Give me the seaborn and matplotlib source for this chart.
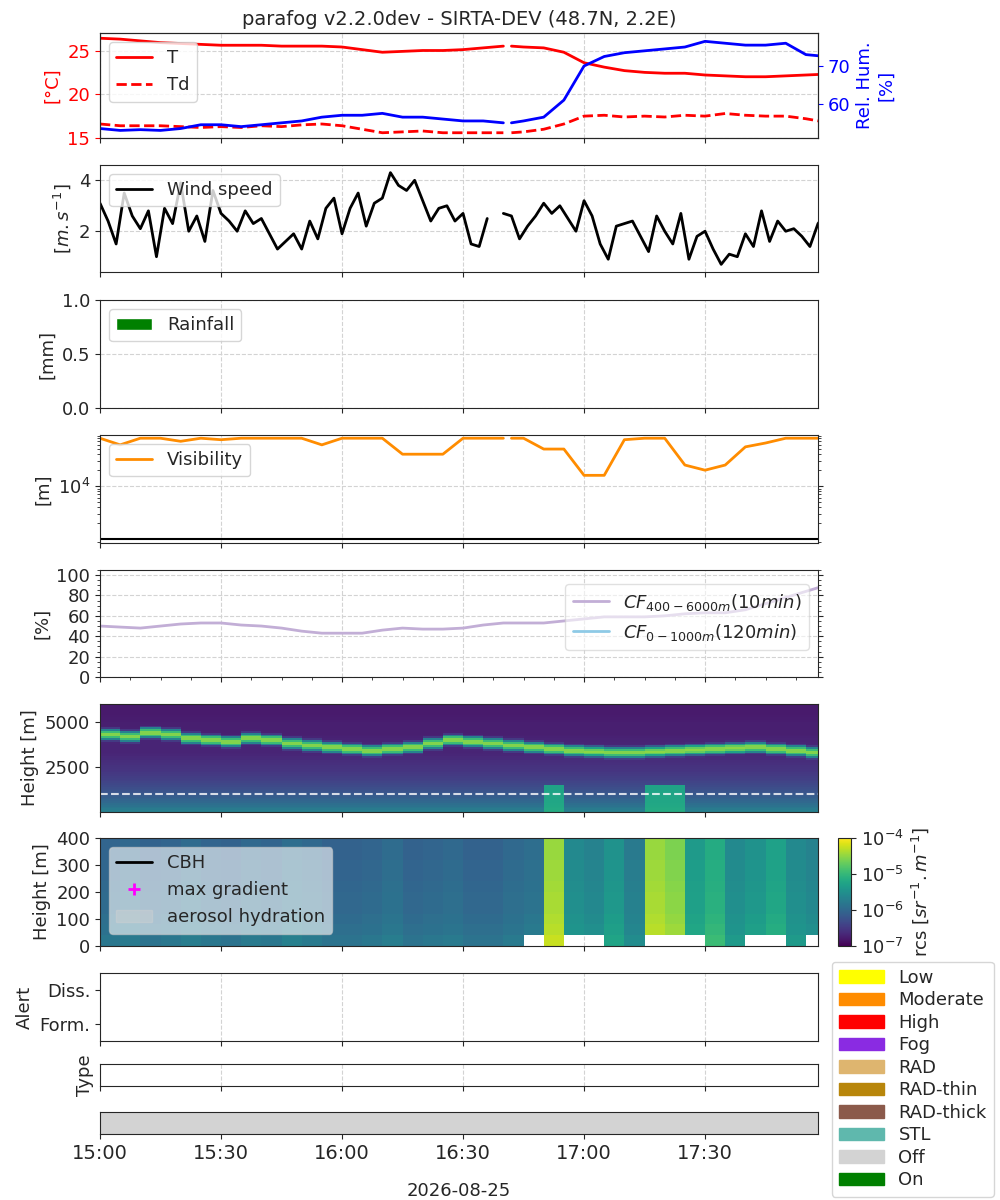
import numpy as np
import pandas as pd
import matplotlib
matplotlib.use('Agg')
import matplotlib.pyplot as plt
import matplotlib.dates as mdates
from matplotlib.colors import LogNorm
from matplotlib.patches import Patch
import seaborn as sns

sns.set_style('ticks')
plt.rcParams['font.family'] = ['DejaVu Sans']
plt.rcParams['font.size'] = 13

day = pd.Timestamp('2026-08-25 15:00')

# minutes after 15:00 for the met series (gap at 16:41)
met_minutes = list(range(0, 101, 5)) + [101] + [102] + list(range(105, 181, 5))
temp = [26.4, 26.3, 26.1, 25.9, 25.8, 25.7, 25.6, 25.6, 25.6, 25.5, 25.5, 25.5, 25.4, 25.1,
        24.8, 24.9, 25.0, 25.0, 25.1, 25.3, 25.5, np.nan,
        25.5, 25.4, 25.3, 24.8, 23.6, 23.1, 22.7, 22.5, 22.4, 22.4, 22.2, 22.1, 22.0, 22.0,
        22.1, 22.2, 22.3]
dewp = [16.6, 16.4, 16.4, 16.4, 16.3, 16.2, 16.3, 16.2, 16.4, 16.3, 16.5, 16.6, 16.4, 16.0,
        15.6, 15.7, 15.8, 15.6, 15.6, 15.6, 15.6, np.nan,
        15.6, 15.7, 16.0, 16.6, 17.5, 17.6, 17.4, 17.5, 17.4, 17.6, 17.5, 17.8, 17.6, 17.5,
        17.5, 17.2, 16.8]
rhum = [53.5, 53.0, 53.2, 53.0, 53.5, 54.5, 54.5, 54.0, 54.5, 55.0, 55.5, 56.5, 57.0, 57.0,
        57.5, 56.5, 56.5, 56.0, 55.5, 55.5, 55.0, np.nan,
        55.0, 55.5, 56.5, 61.0, 70.0, 72.5, 73.5, 74.0, 74.5, 75.0, 76.5, 76.0, 75.5, 75.5,
        76.0, 73.0, 72.5]
visib = [80000, 60000, 80000, 80000, 70000, 80000, 75000, 80000, 80000, 80000, 80000, 60000,
         80000, 80000, 80000, 40000, 40000, 40000, 80000, 80000, 80000, np.nan,
         80000, 80000, 50000, 50000, 16000, 16000, 75000, 80000, 80000, 25000, 20000, 25000,
         55000, 65000, 80000, 80000, 80000]
# 5-min cloud fraction
cloud_frac = [50, 49, 48, 50, 52, 53, 53, 51, 50, 48, 45, 43, 43, 43, 46, 48, 47, 47, 48, 51,
              53, 53, 53, 55, 57, 59, 59, 59, 60, 62, 63, 63, 66, 72, 78, 84, 90]
# 2-min wind speed
wind = [3.1, 2.4, 1.5, 3.5, 2.6, 2.1, 2.8, 1.0, 2.9, 2.3, 3.9, 2.0, 2.6, 1.6, 3.6, 2.7, 2.4,
        2.0, 2.8, 2.3, 2.5, 1.9, 1.3, 1.6, 1.9, 1.3, 2.4, 1.7, 2.9, 3.3, 1.9, 2.9, 3.5, 2.2,
        3.1, 3.3, 4.3, 3.8, 3.6, 4.0, 3.2, 2.4, 2.9, 3.0, 2.4, 2.7, 1.5, 1.4, 2.5, np.nan,
        2.7, 2.6, 1.7, 2.2, 2.6, 3.1, 2.7, 3.0, 2.5, 2.0, 3.2, 2.6, 1.5, 0.9, 2.2, 2.3, 2.4,
        1.8, 1.2, 2.6, 2.0, 1.5, 2.7, 0.9, 1.8, 2.0, 1.3, 0.7, 1.1, 1.0, 1.9, 1.4, 2.8, 1.6,
        2.4, 2.0, 2.1, 1.8, 1.4, 2.3, 2.7, 2.1, 2.5, 1.9, 3.5, 2.5]
# ceilometer proxies (5-min columns)
layer_height = [4300, 4200, 4400, 4300, 4100, 4000, 3900, 4100, 4000, 3800, 3700, 3600, 3500,
                3400, 3500, 3600, 3800, 4000, 3900, 3800, 3700, 3600, 3500, 3400, 3350, 3300,
                3300, 3350, 3400, 3450, 3500, 3550, 3600, 3500, 3400, 3300]
low_column = [1.1e-6, 1.2e-6, 1.0e-6, 1.1e-6, 1.3e-6, 1.1e-6, 1.0e-6, 1.2e-6, 1.1e-6, 1.4e-6,
              1.2e-6, 1.0e-6, 1.0e-6, 1.1e-6, 1.3e-6, 1.0e-6, 1.1e-6, 1.2e-6, 1.0e-6, 1.0e-6,
              1.2e-6, 1.4e-6, 4e-5, 3e-6, 2.5e-6, 4e-6, 2e-6, 4e-5, 3e-5, 5e-6, 8e-6, 3e-6,
              4e-6, 6e-6, 3e-6, 2.5e-6]
low_missing = [0] * 21 + [1, 0, 1, 1, 0, 0, 1, 1, 1, 0, 0, 1, 1, 0, 1]
height_profile_high = [2e-6, 1e-6, 6e-7, 4e-7, 3e-7, 2.5e-7, 2e-7, 2e-7, 1.8e-7, 1.8e-7, 1.6e-7, 1.6e-7]
height_profile_low = [1.4, 1.2, 1.1, 1.0, 1.0, 0.95, 0.9, 0.9, 0.85, 0.85]

W, H = 1000, 1200
def box(yt, yb, xl=100, xr=818):
    return [xl / W, 1 - yb / H, (xr - xl) / W, (yb - yt) / H]

fig = plt.figure(figsize=(10, 12), dpi=100)
tm = day + pd.to_timedelta(met_minutes, unit='min')
t2 = day + pd.to_timedelta(np.arange(len(wind)) * 2, unit='min')
t5 = day + pd.to_timedelta(np.arange(len(cloud_frac)) * 5, unit='min')
xlim = (day, day + pd.Timedelta(minutes=178))

axes = []
# 1 T / Td / RH
ax = fig.add_axes(box(33, 138)); axes.append(ax)
ax.plot(tm, temp, color='red', lw=2, label='T')
ax.plot(tm, dewp, color='red', lw=2, ls='--', label='Td')
ax.set_ylim(15, 27); ax.set_yticks([15, 20, 25])
ax.set_ylabel('[°C]', color='red'); ax.tick_params(axis='y', colors='red')
ax.legend(loc='upper left')
ax2 = ax.twinx()
ax2.plot(tm, rhum, color='blue', lw=2)
ax2.set_ylim(51, 78.7); ax2.set_yticks([60, 70])
ax2.set_ylabel('Rel. Hum.\n[%]', color='blue'); ax2.tick_params(axis='y', colors='blue')
ax.set_title('parafog v2.2.0dev - SIRTA-DEV (48.7N, 2.2E)', fontsize=14)

# 2 wind
ax = fig.add_axes(box(165, 272)); axes.append(ax)
ax.plot(t2, wind, color='black', lw=2, label='Wind speed')
ax.set_ylim(0.4, 4.6); ax.set_yticks([2, 4])
ax.set_ylabel('[$m.s^{-1}$]'); ax.legend(loc='upper left')

# 3 rain
ax = fig.add_axes(box(300, 408)); axes.append(ax)
ax.bar(t5, np.zeros(len(t5)), width=0.003, color='green', label='Rainfall')
ax.set_ylim(0, 1); ax.set_yticks([0, 0.5, 1.0])
ax.set_ylabel('[mm]'); ax.legend(loc='upper left')

# 4 visibility
ax = fig.add_axes(box(435, 543)); axes.append(ax)
ax.plot(tm, visib, color='darkorange', lw=2, label='Visibility')
ax.set_yscale('log'); ax.set_ylim(850, 92000)
ax.set_yticks([1e4])
ax.axhline(1000, color='black', lw=1.5)
ax.set_ylabel('[m]'); ax.legend(loc='upper left')
ax.tick_params(axis='y', which='both', right=True)

# 5 cloud fraction
ax = fig.add_axes(box(570, 677)); axes.append(ax)
ax.plot(t5, cloud_frac, color='#c2aed6', lw=2, label='$CF_{400-6000m}(10min)$')
ax.plot([], [], color='#8ecae6', lw=2, label='$CF_{0-1000m}(120min)$')
ax.set_ylim(0, 105); ax.set_yticks(range(0, 101, 20))
ax.set_ylabel('[%]'); ax.legend(loc='upper right', bbox_to_anchor=(1, 0.95), framealpha=0.6)
ax.minorticks_on(); ax.tick_params(axis='y', which='both', right=True)

norm = LogNorm(1e-7, 1e-4)
tcol = day + pd.to_timedelta(np.arange(len(layer_height) + 1) * 5, unit='min')
# 6 high rcs
ax = fig.add_axes(box(704, 812)); axes.append(ax)
hgrid = np.linspace(0, 6000, 61)
hc = 0.5 * (hgrid[1:] + hgrid[:-1])
bg = np.interp(hc, np.linspace(0, 6000, len(height_profile_high)), height_profile_high)
field = np.tile(bg[:, None], (1, len(layer_height)))
for j, lh in enumerate(layer_height):
    field[:, j] += 3e-5 * np.exp(-((hc - lh) / 150) ** 2)
    if low_column[j] > 1e-5:
        field[hc < 1500, j] += 5e-6
ax.pcolormesh(tcol, hgrid, field, cmap='viridis', norm=norm)
ax.axhline(1000, color='white', ls='--', lw=1.5, alpha=0.8)
ax.set_ylim(0, 6000); ax.set_yticks([2500, 5000])
ax.set_ylabel('Height [m]')

# 7 low rcs
ax = fig.add_axes(box(838, 946)); axes.append(ax)
lgrid = np.linspace(0, 400, len(height_profile_low) + 1)
lfield = np.outer(height_profile_low, low_column)
lfield[0, np.array(low_missing) == 1] = np.nan
mesh = ax.pcolormesh(tcol, lgrid, lfield, cmap='viridis', norm=norm)
ax.plot([], [], color='black', lw=2, label='CBH')
ax.plot([], [], '+', color='magenta', ms=8, mew=2, label='max gradient')
ax.fill_between([], [], color='lightgray', alpha=0.4, label='aerosol hydration')
ax.set_ylim(0, 400); ax.set_yticks(range(0, 401, 100))
ax.set_ylabel('Height [m]'); ax.legend(loc='upper left', framealpha=0.6)
cax = fig.add_axes(box(838, 946, 838, 851))
cb = fig.colorbar(mesh, cax=cax)
cb.set_ticks([1e-7, 1e-6, 1e-5, 1e-4])
cb.set_label('rcs [$sr^{-1}.m^{-1}$]')

# 8 alert
ax = fig.add_axes(box(973, 1041)); axes.append(ax)
ax.set_ylim(-0.5, 1.5); ax.set_yticks([0, 1]); ax.set_yticklabels(['Form.', 'Diss.'])
ax.set_ylabel('Alert')

# 9 type
ax = fig.add_axes(box(1064, 1086)); axes.append(ax)
ax.set_yticks([]); ax.set_ylabel('Type')

# 10 on/off
ax = fig.add_axes(box(1112, 1134)); axes.append(ax)
ax.axvspan(xlim[0], xlim[1], color='lightgray')
ax.set_yticks([])

for i, a in enumerate(axes):
    a.set_xlim(xlim)
    a.xaxis.set_major_locator(mdates.MinuteLocator(byminute=[0, 30]))
    a.xaxis.set_major_formatter(mdates.DateFormatter('%H:%M'))
    if i < 5:
        a.grid(True, ls='--', color='lightgray')
    else:
        a.grid(True, axis='x', ls='--', color='lightgray')
    if i < len(axes) - 1:
        a.tick_params(labelbottom=False)
    else:
        a.set_xlabel('2026-08-25', labelpad=14)
        a.tick_params(axis='x', labelsize=14)

handles = [Patch(color=c, label=l) for c, l in [
    ('yellow', 'Low'), ('darkorange', 'Moderate'), ('red', 'High'), ('blueviolet', 'Fog'),
    ('#deb56f', 'RAD'), ('darkgoldenrod', 'RAD-thin'), ('#8b5a4b', 'RAD-thick'),
    ('#5fb8ad', 'STL'), ('lightgray', 'Off'), ('green', 'On')]]
fig.legend(handles=handles, loc='upper left', bbox_to_anchor=(828 / W, 1 - 958 / H),
           fontsize=13, handlelength=2.5, borderaxespad=0.2, labelspacing=0.25)

fig.savefig('out.png', dpi=100)
